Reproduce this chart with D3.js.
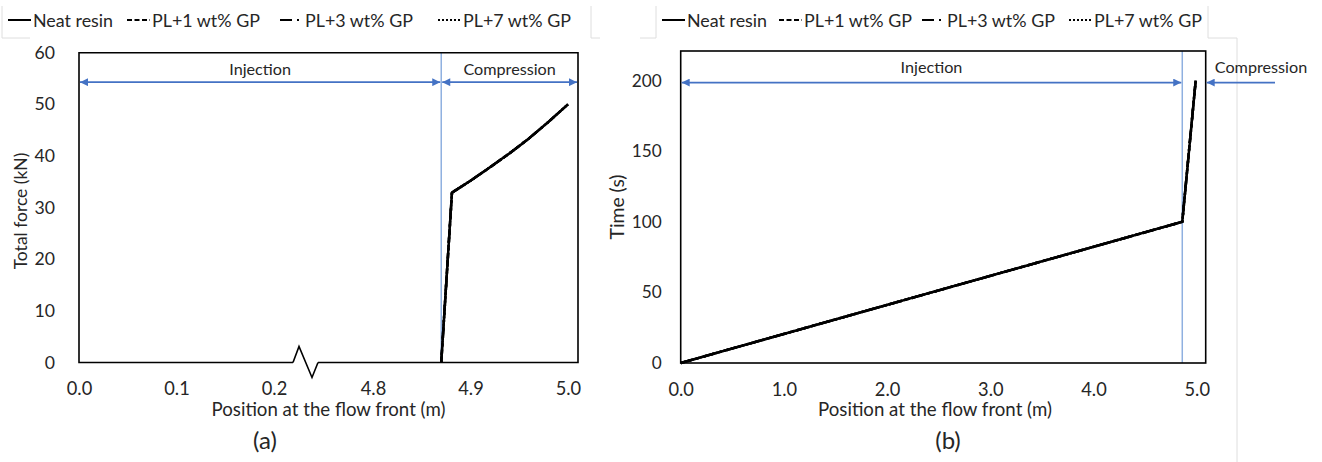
<!DOCTYPE html>
<html>
<head>
<meta charset="utf-8">
<script src="https://cdn.jsdelivr.net/npm/d3@7/dist/d3.min.js"></script>
<style>
  body { margin: 0; background: #fff; }
  text { font-family: Lato, "Open Sans", sans-serif; fill: #262626; }
</style>
</head>
<body>
<svg id="chart" width="1322" height="462"></svg>
<script>
// ---- data ----
const seriesNames = ["Neat resin", "PL+1 wt% GP", "PL+3 wt% GP", "PL+7 wt% GP"];
const seriesDash = [null, "5,2.5", "12,5,2,5", "2,2"];

// (a) total force vs flow-front position (broken x axis)
const forceXTicks = [0.0, 0.1, 0.2, 4.8, 4.9, 5.0];
const forceYTicks = [0, 10, 20, 30, 40, 50, 60];
const forcePos = [4.870, 4.881, 4.90, 4.92, 4.94, 4.96, 4.98, 5.00];
const forceNeat = [0, 32.9, 35.2, 37.8, 40.5, 43.4, 46.6, 50.0];
const forcePL1  = [0, 32.9, 35.2, 37.8, 40.5, 43.4, 46.6, 50.0];
const forcePL3  = [0, 32.9, 35.2, 37.8, 40.5, 43.4, 46.6, 50.0];
const forcePL7  = [0, 32.9, 35.2, 37.8, 40.5, 43.4, 46.6, 50.0];
const forceSplit = 4.87;

// (b) time vs flow-front position
const timeXTicks = [0, 1, 2, 3, 4, 5];
const timeYTicks = [0, 50, 100, 150, 200];
const timePos = [0, 4.86, 4.99];
const timeNeat = [0, 100, 200];
const timePL1  = [0, 100, 200];
const timePL3  = [0, 100, 200];
const timePL7  = [0, 100, 200];
const timeSplit = 4.86;

const blue = "#4472c4", lightBlue = "#8fb0e0";
const svg = d3.select("#chart");

// scale a text's font so that it is as wide as in the reference
function fitSize(sel, target) {
  const w = sel.node().getComputedTextLength();
  const fs = parseFloat(sel.style("font-size"));
  const size = fs * target / w;
  sel.style("font-size", size + "px");
  return size;
}

const defs = svg.append("defs");
defs.append("marker")
    .attr("id", "head")
    .attr("viewBox", "0 0 10 10")
    .attr("refX", 10).attr("refY", 5)
    .attr("markerWidth", 10).attr("markerHeight", 8)
    .attr("markerUnits", "userSpaceOnUse")
    .attr("orient", "auto-start-reverse")
  .append("path")
    .attr("d", "M0,0L10,5L0,10Z")
    .attr("fill", blue);

// legend font size from the reference width of "PL+1 wt% GP"
const probe = svg.append("text").style("font-size", "16px").text(seriesNames[1]);
const legendSize = fitSize(probe, 108);
probe.remove();

function legend(g, starts) {
  seriesNames.forEach((name, i) => {
    const x = starts[i];
    g.append("line")
      .attr("x1", x).attr("x2", x + 23)
      .attr("y1", 20).attr("y2", 20)
      .attr("stroke", "#000").attr("stroke-width", 2)
      .attr("stroke-dasharray", seriesDash[i]);
    g.append("text")
      .attr("x", x + 25).attr("y", 27)
      .style("font-size", legendSize + "px")
      .text(name);
  });
}

function frameLines(g, pts) {
  g.append("path").attr("d", d3.line()(pts))
    .attr("fill", "none").attr("stroke", "#dedede").attr("stroke-width", 1);
}

function drawLines(g, x, y, pos, series) {
  const line = d3.line().x((d, i) => x(pos[i])).y(d => y(d));
  series.forEach((vals, i) => {
    g.append("path")
      .datum(vals)
      .attr("d", line)
      .attr("fill", "none")
      .attr("stroke", "#000")
      .attr("stroke-width", 2.5)
      .attr("stroke-linejoin", "round")
      .attr("stroke-dasharray", seriesDash[i]);
  });
}

function arrow(g, x1, x2, y, both) {
  g.append("line")
    .attr("x1", x1).attr("x2", x2).attr("y1", y).attr("y2", y)
    .attr("stroke", blue).attr("stroke-width", 1.6)
    .attr("marker-end", "url(#head)")
    .attr("marker-start", both ? "url(#head)" : null);
}

function styleTicks(axisG, probeText, target) {
  const texts = axisG.selectAll("text").attr("font-family", null).style("font-size", "17px");
  let size = 17;
  texts.each(function() {
    if (d3.select(this).text() === probeText) size = fitSize(d3.select(this), target);
  });
  texts.style("font-size", size + "px");
}

// ================= panel (a) =================
const xA = d3.scaleLinear().domain([0, 0.2, 4.8, 5.0103]).range([79, 274, 373, 578]);
const yA = d3.scaleLinear().domain([0, 60]).range([362.5, 52.7]);
const gA = svg.append("g");

frameLines(gA, [[2, 6], [2, 38], [30, 38]]);
frameLines(gA, [[591, 6], [591, 38], [600, 38]]);
legend(gA, [8, 127, 280, 438]);

// stage divider
gA.append("line")
  .attr("x1", xA(forceSplit)).attr("x2", xA(forceSplit))
  .attr("y1", yA(60)).attr("y2", yA(0))
  .attr("stroke", lightBlue).attr("stroke-width", 1.5);

// box with broken bottom edge
const bx0 = xA(0), bx1 = xA.range()[3], by0 = yA(0), by1 = yA(60);
const brk = xA(0.2) + 19;
gA.append("path")
  .attr("d", d3.line()([[brk, by0], [bx0, by0], [bx0, by1], [bx1, by1], [bx1, by0], [brk + 25, by0]]))
  .attr("fill", "none").attr("stroke", "#000").attr("stroke-width", 1.6);
gA.append("path")
  .attr("d", d3.line()([[brk, by0], [brk + 6, by0 - 16], [brk + 19, by0 + 15], [brk + 25, by0]]))
  .attr("fill", "none").attr("stroke", "#000").attr("stroke-width", 1.6);

drawLines(gA, xA, yA, forcePos, [forceNeat, forcePL1, forcePL3, forcePL7]);

const axA = gA.append("g")
  .attr("transform", `translate(0,${by0})`)
  .call(d3.axisBottom(xA).tickValues(forceXTicks).tickSize(0).tickPadding(20).tickFormat(d3.format(".1f")))
  .call(g => g.select(".domain").remove());
styleTicks(axA, "0.0", 25.5);

const ayA = gA.append("g")
  .attr("transform", `translate(${bx0},0)`)
  .call(d3.axisLeft(yA).tickValues(forceYTicks).tickSize(0).tickPadding(24))
  .call(g => g.select(".domain").remove());
styleTicks(ayA, "60", 20.5);

const titleA = gA.append("text")
  .attr("x", (bx0 + bx1) / 2).attr("y", 416)
  .attr("text-anchor", "middle").style("font-size", "17px")
  .text("Position at the flow front (m)");
const titleSize = fitSize(titleA, 234);

gA.append("text")
  .attr("transform", `translate(27,211) rotate(-90)`)
  .attr("text-anchor", "middle").style("font-size", "17px")
  .text("Total force (kN)")
  .call(t => fitSize(t, 116.7));

arrow(gA, bx0 + 1, xA(forceSplit) - 1, yA(54.3), true);
arrow(gA, xA(forceSplit) + 1, bx1 - 1, yA(54.3), true);
gA.append("text")
  .attr("x", (bx0 + xA(forceSplit)) / 2).attr("y", 75)
  .attr("text-anchor", "middle").text("Injection");
const compA = gA.append("text")
  .attr("x", (xA(forceSplit) + bx1) / 2).attr("y", 75)
  .attr("text-anchor", "middle").style("font-size", "16px").text("Compression");
const noteSize = fitSize(compA, 92.5);

gA.append("text")
  .attr("x", 265).attr("y", 449)
  .attr("text-anchor", "middle").style("font-size", "24px").text("(a)");

// ================= panel (b) =================
const xB = d3.scaleLinear().domain([0, 5.087]).range([680.7, 1205.7]);
const yB = d3.scaleLinear().domain([0, 221]).range([363, 51]);
const gB = svg.append("g");

frameLines(gB, [[640, 38], [656, 38], [656, 6]]);
frameLines(gB, [[1208, 6], [1208, 38], [1237, 38], [1237, 462]]);
legend(gB, [662, 779, 922, 1069]);

gB.append("line")
  .attr("x1", xB(timeSplit)).attr("x2", xB(timeSplit))
  .attr("y1", yB(221)).attr("y2", yB(0))
  .attr("stroke", lightBlue).attr("stroke-width", 1.5);

gB.append("rect")
  .attr("x", xB(0)).attr("y", yB(221))
  .attr("width", xB(5.087) - xB(0)).attr("height", yB(0) - yB(221))
  .attr("fill", "none").attr("stroke", "#000").attr("stroke-width", 1.6);

drawLines(gB, xB, yB, timePos, [timeNeat, timePL1, timePL3, timePL7]);

const axB = gB.append("g")
  .attr("transform", `translate(0,${yB(0)})`)
  .call(d3.axisBottom(xB).tickValues(timeXTicks).tickSize(0).tickPadding(20).tickFormat(d3.format(".1f")))
  .call(g => g.select(".domain").remove());
styleTicks(axB, "0.0", 25.5);

const ayB = gB.append("g")
  .attr("transform", `translate(${xB(0)},0)`)
  .call(d3.axisLeft(yB).tickValues(timeYTicks).tickSize(0).tickPadding(19))
  .call(g => g.select(".domain").remove());
styleTicks(ayB, "200", 30);

gB.append("text")
  .attr("x", 935).attr("y", 416)
  .attr("text-anchor", "middle").style("font-size", titleSize + "px")
  .text("Position at the flow front (m)");

gB.append("text")
  .attr("transform", `translate(624,${(yB(0) + yB(221)) / 2}) rotate(-90)`)
  .attr("text-anchor", "middle").style("font-size", "17px")
  .text("Time (s)")
  .call(t => fitSize(t, 65));

arrow(gB, xB(0) + 1, xB(timeSplit) - 1, yB(198.6), true);
arrow(gB, 1275, xB(5.087) + 1, yB(198.6), false);
gB.append("text")
  .attr("x", (xB(0) + xB(timeSplit)) / 2).attr("y", 73)
  .attr("text-anchor", "middle").text("Injection");
gB.append("text")
  .attr("x", 1261).attr("y", 73)
  .attr("text-anchor", "middle").text("Compression");

gB.append("text")
  .attr("x", 948).attr("y", 449)
  .attr("text-anchor", "middle").style("font-size", "24px").text("(b)");

svg.selectAll("text").filter(function() {
  const t = d3.select(this).text();
  return t === "Injection" || t === "Compression";
}).style("font-size", noteSize + "px");
</script>
</body>
</html>
